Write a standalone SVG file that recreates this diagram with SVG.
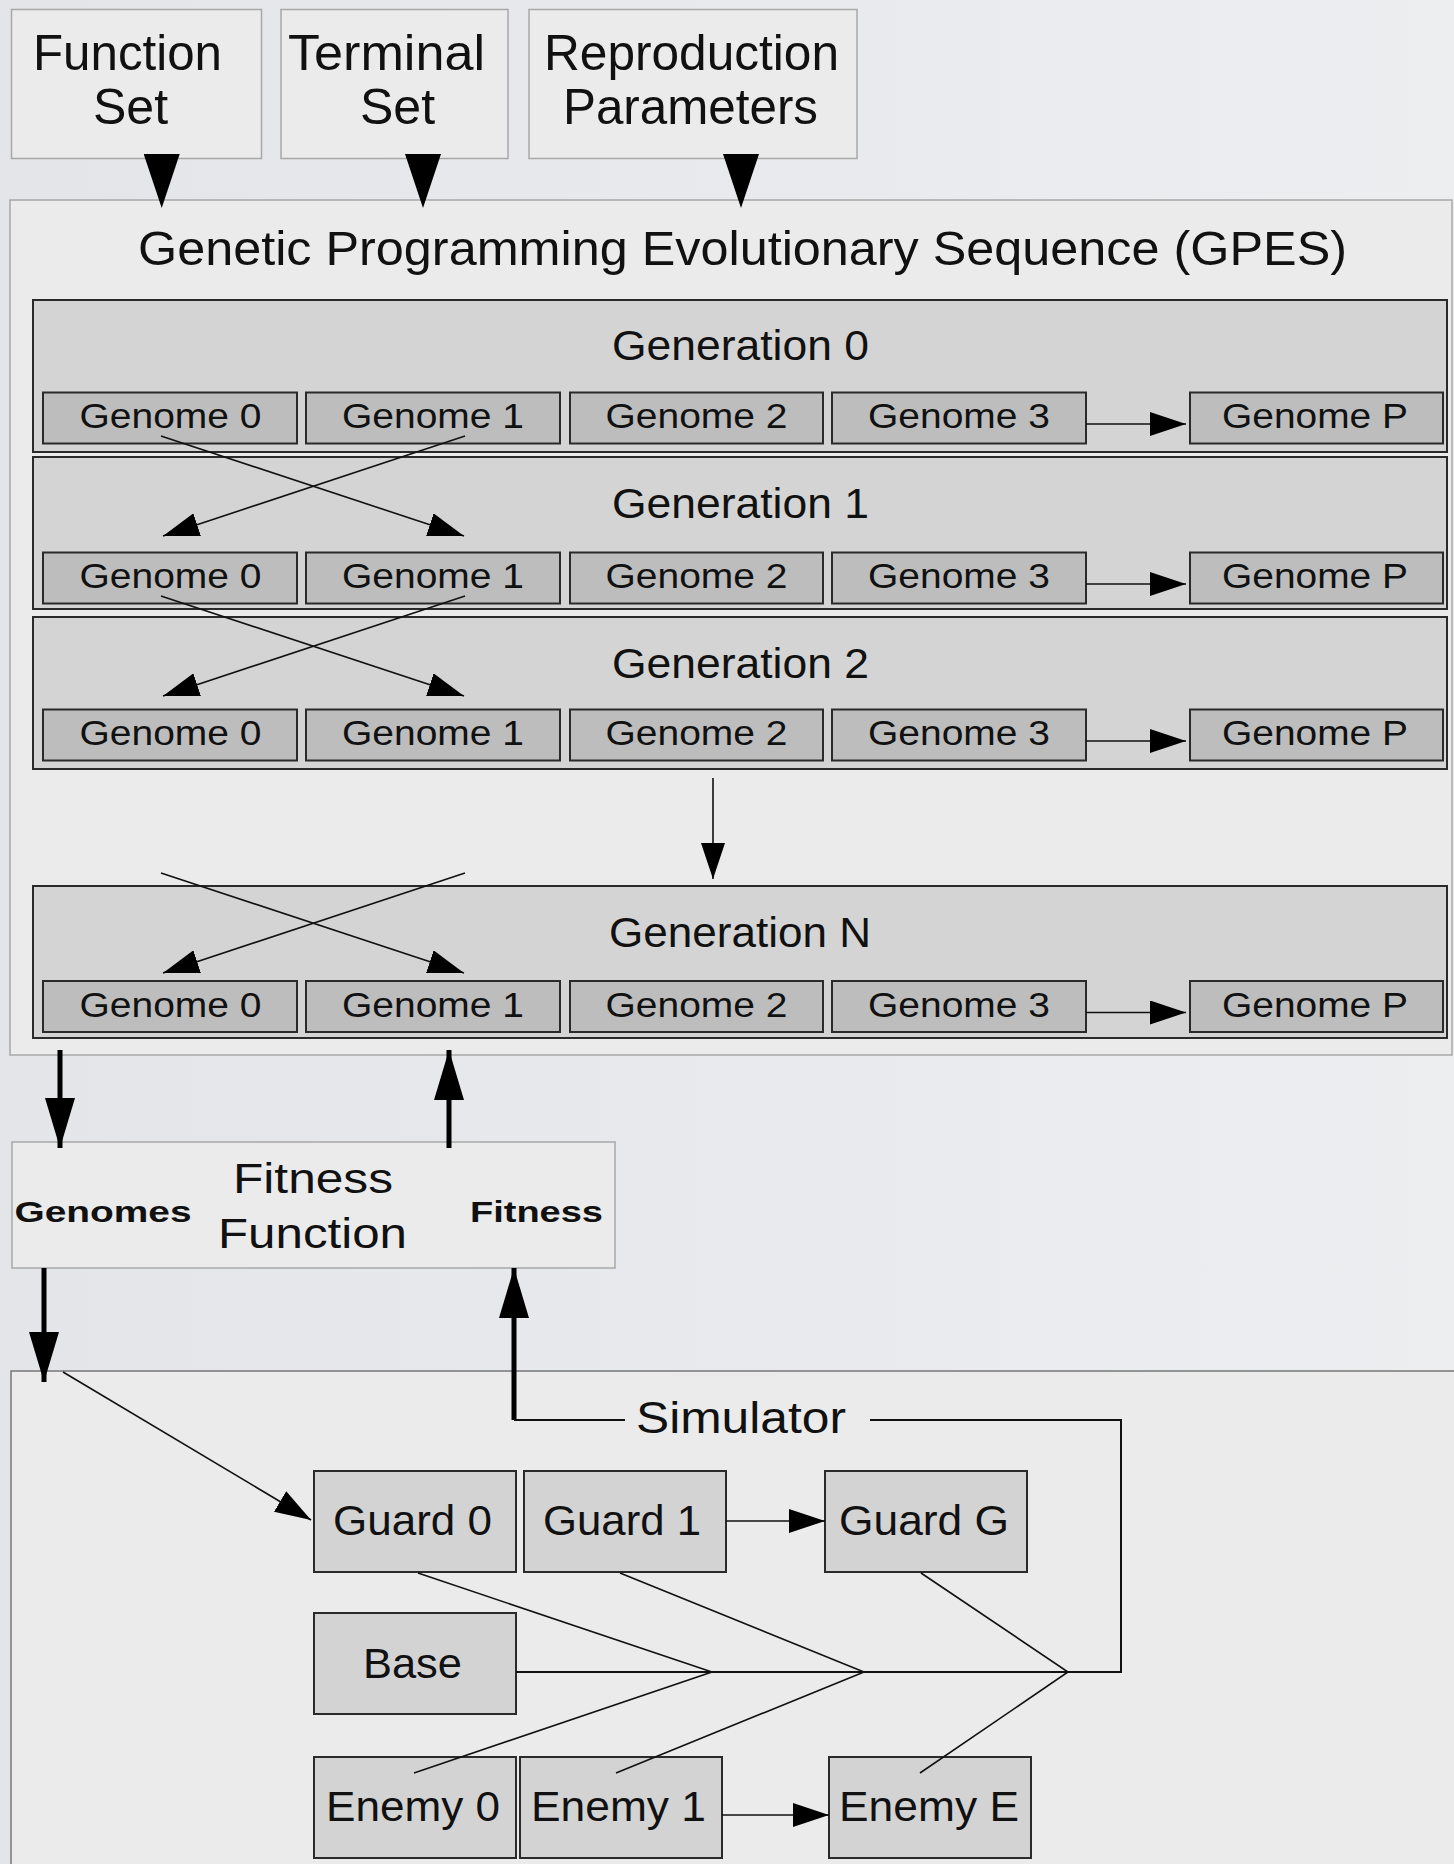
<svg xmlns="http://www.w3.org/2000/svg" width="1454" height="1864" viewBox="0 0 1454 1864">
<defs>
<style>
text{font-family:"Liberation Sans",Arial,sans-serif;fill:#111}
.panel{fill:#ebebeb;stroke:#a8a8a8;stroke-width:1.5}
.gen{fill:#d4d4d4;stroke:#2a2a2a;stroke-width:2}
.gnm{fill:#bdbdbd;stroke:#2a2a2a;stroke-width:2}
.ent{fill:#d3d3d3;stroke:#2a2a2a;stroke-width:2}
.gt{font-size:35px;text-anchor:middle}
.gl{font-size:42px;text-anchor:middle}
.tt{font-size:50px;text-anchor:middle}
.et{font-size:43px;text-anchor:middle}
.thin{stroke:#111;stroke-width:1.6;fill:none}
.thick{stroke:#000;stroke-width:5;fill:none}
.mid{stroke:#111;stroke-width:2;fill:none}
</style>
<linearGradient id="bg" x1="0" y1="0" x2="1" y2="0">
<stop offset="0" stop-color="#e3e5e9"/><stop offset="1" stop-color="#eceef0"/>
</linearGradient>
<marker id="ah" markerUnits="userSpaceOnUse" markerWidth="36" markerHeight="24" refX="36" refY="12" orient="auto"><path d="M0,0 L36,12 L0,24 z" fill="#000"/></marker>
<marker id="ahT" markerUnits="userSpaceOnUse" markerWidth="50" markerHeight="30" refX="50" refY="15" orient="auto"><path d="M0,0 L50,15 L0,30 z" fill="#000"/></marker>
<marker id="ahB" markerUnits="userSpaceOnUse" markerWidth="54" markerHeight="36" refX="54" refY="18" orient="auto"><path d="M0,0 L54,18 L0,36 z" fill="#000"/></marker>
</defs>
<rect x="0" y="0" width="1454" height="1864" fill="url(#bg)"/>

<g id="function-set">
<rect class="panel" x="11.5" y="9.5" width="250" height="149"/>
<text class="tt" x="127.5" y="70" textLength="189" lengthAdjust="spacingAndGlyphs">Function</text>
<text class="tt" x="130.5" y="124">Set</text>
</g>
<g id="terminal-set">
<rect class="panel" x="281" y="9.5" width="227" height="149"/>
<text class="tt" x="386.5" y="70" textLength="197" lengthAdjust="spacingAndGlyphs">Terminal</text>
<text class="tt" x="397.5" y="124">Set</text>
</g>
<g id="reproduction-parameters">
<rect class="panel" x="529" y="9.5" width="328" height="149"/>
<text class="tt" x="691.5" y="70" textLength="295" lengthAdjust="spacingAndGlyphs">Reproduction</text>
<text class="tt" x="690.5" y="124" textLength="255" lengthAdjust="spacingAndGlyphs">Parameters</text>
</g>

<g id="gpes">
<rect class="panel" x="10" y="200" width="1442" height="855"/>
<text x="742.5" y="265" font-size="48" text-anchor="middle" textLength="1209" lengthAdjust="spacingAndGlyphs">Genetic Programming Evolutionary Sequence (GPES)</text>
</g>

<g id="generation-0">
<rect class="gen" x="33" y="300" width="1414" height="152"/>
<text class="gl" x="740.5" y="360" textLength="257" lengthAdjust="spacingAndGlyphs">Generation 0</text>
<rect class="gnm" x="43" y="392.5" width="254" height="51"/>
<text class="gt" x="170.5" y="428" textLength="182" lengthAdjust="spacingAndGlyphs">Genome 0</text>
<rect class="gnm" x="306" y="392.5" width="254" height="51"/>
<text class="gt" x="433" y="428" textLength="182" lengthAdjust="spacingAndGlyphs">Genome 1</text>
<rect class="gnm" x="570" y="392.5" width="253" height="51"/>
<text class="gt" x="696.5" y="428" textLength="182" lengthAdjust="spacingAndGlyphs">Genome 2</text>
<rect class="gnm" x="832" y="392.5" width="254" height="51"/>
<text class="gt" x="959" y="428" textLength="182" lengthAdjust="spacingAndGlyphs">Genome 3</text>
<rect class="gnm" x="1190" y="392.5" width="253" height="51"/>
<text class="gt" x="1315" y="428" textLength="186" lengthAdjust="spacingAndGlyphs">Genome P</text>
</g>

<g id="generation-1">
<rect class="gen" x="33" y="457" width="1414" height="152"/>
<text class="gl" x="740.5" y="518" textLength="257" lengthAdjust="spacingAndGlyphs">Generation 1</text>
<rect class="gnm" x="43" y="552.5" width="254" height="51"/>
<text class="gt" x="170.5" y="588" textLength="182" lengthAdjust="spacingAndGlyphs">Genome 0</text>
<rect class="gnm" x="306" y="552.5" width="254" height="51"/>
<text class="gt" x="433" y="588" textLength="182" lengthAdjust="spacingAndGlyphs">Genome 1</text>
<rect class="gnm" x="570" y="552.5" width="253" height="51"/>
<text class="gt" x="696.5" y="588" textLength="182" lengthAdjust="spacingAndGlyphs">Genome 2</text>
<rect class="gnm" x="832" y="552.5" width="254" height="51"/>
<text class="gt" x="959" y="588" textLength="182" lengthAdjust="spacingAndGlyphs">Genome 3</text>
<rect class="gnm" x="1190" y="552.5" width="253" height="51"/>
<text class="gt" x="1315" y="588" textLength="186" lengthAdjust="spacingAndGlyphs">Genome P</text>
</g>

<g id="generation-2">
<rect class="gen" x="33" y="617" width="1414" height="152"/>
<text class="gl" x="740.5" y="678" textLength="257" lengthAdjust="spacingAndGlyphs">Generation 2</text>
<rect class="gnm" x="43" y="709.5" width="254" height="51"/>
<text class="gt" x="170.5" y="745" textLength="182" lengthAdjust="spacingAndGlyphs">Genome 0</text>
<rect class="gnm" x="306" y="709.5" width="254" height="51"/>
<text class="gt" x="433" y="745" textLength="182" lengthAdjust="spacingAndGlyphs">Genome 1</text>
<rect class="gnm" x="570" y="709.5" width="253" height="51"/>
<text class="gt" x="696.5" y="745" textLength="182" lengthAdjust="spacingAndGlyphs">Genome 2</text>
<rect class="gnm" x="832" y="709.5" width="254" height="51"/>
<text class="gt" x="959" y="745" textLength="182" lengthAdjust="spacingAndGlyphs">Genome 3</text>
<rect class="gnm" x="1190" y="709.5" width="253" height="51"/>
<text class="gt" x="1315" y="745" textLength="186" lengthAdjust="spacingAndGlyphs">Genome P</text>
</g>

<g id="generation-n">
<rect class="gen" x="33" y="886" width="1414" height="152"/>
<text class="gl" x="740" y="947" textLength="262" lengthAdjust="spacingAndGlyphs">Generation N</text>
<rect class="gnm" x="43" y="981" width="254" height="51"/>
<text class="gt" x="170.5" y="1016.5" textLength="182" lengthAdjust="spacingAndGlyphs">Genome 0</text>
<rect class="gnm" x="306" y="981" width="254" height="51"/>
<text class="gt" x="433" y="1016.5" textLength="182" lengthAdjust="spacingAndGlyphs">Genome 1</text>
<rect class="gnm" x="570" y="981" width="253" height="51"/>
<text class="gt" x="696.5" y="1016.5" textLength="182" lengthAdjust="spacingAndGlyphs">Genome 2</text>
<rect class="gnm" x="832" y="981" width="254" height="51"/>
<text class="gt" x="959" y="1016.5" textLength="182" lengthAdjust="spacingAndGlyphs">Genome 3</text>
<rect class="gnm" x="1190" y="981" width="253" height="51"/>
<text class="gt" x="1315" y="1016.5" textLength="186" lengthAdjust="spacingAndGlyphs">Genome P</text>
</g>

<g id="fitness-function">
<rect class="panel" x="12" y="1142" width="603" height="126"/>
<text x="103" y="1222" font-size="30" font-weight="bold" text-anchor="middle" textLength="177" lengthAdjust="spacingAndGlyphs">Genomes</text>
<text x="313" y="1193" font-size="42" text-anchor="middle" textLength="160" lengthAdjust="spacingAndGlyphs">Fitness</text>
<text x="312.5" y="1248" font-size="42" text-anchor="middle" textLength="189" lengthAdjust="spacingAndGlyphs">Function</text>
<text x="536.5" y="1222" font-size="30" font-weight="bold" text-anchor="middle" textLength="133" lengthAdjust="spacingAndGlyphs">Fitness</text>
</g>

<g id="simulator">
<rect class="panel" x="11" y="1371" width="1450" height="500" style="stroke:#777"/>
<text x="741" y="1433" font-size="45" text-anchor="middle" textLength="210" lengthAdjust="spacingAndGlyphs">Simulator</text>
</g>

<g id="guard-0"><rect class="ent" x="314" y="1471" width="202" height="101"/><text class="et" x="412.5" y="1535" textLength="159" lengthAdjust="spacingAndGlyphs">Guard 0</text></g>
<g id="guard-1"><rect class="ent" x="524" y="1471" width="202" height="101"/><text class="et" x="622" y="1535" textLength="158" lengthAdjust="spacingAndGlyphs">Guard 1</text></g>
<g id="guard-g"><rect class="ent" x="825" y="1471" width="202" height="101"/><text class="et" x="924" y="1535" textLength="170" lengthAdjust="spacingAndGlyphs">Guard G</text></g>
<g id="base"><rect class="ent" x="314" y="1613" width="202" height="101"/><text class="et" x="412.5" y="1678" textLength="99" lengthAdjust="spacingAndGlyphs">Base</text></g>
<g id="enemy-0"><rect class="ent" x="314" y="1757" width="202" height="101"/><text class="et" x="413" y="1821" textLength="174" lengthAdjust="spacingAndGlyphs">Enemy 0</text></g>
<g id="enemy-1"><rect class="ent" x="520" y="1757" width="202" height="101"/><text class="et" x="618.5" y="1821" textLength="175" lengthAdjust="spacingAndGlyphs">Enemy 1</text></g>
<g id="enemy-e"><rect class="ent" x="829" y="1757" width="202" height="101"/><text class="et" x="929" y="1821" textLength="180" lengthAdjust="spacingAndGlyphs">Enemy E</text></g>

<g id="connectors">
<!-- inputs into GPES -->
<line x1="161.7" y1="158" x2="161.7" y2="208" style="stroke:none" marker-end="url(#ahB)"/>
<line x1="423" y1="158" x2="423" y2="208" style="stroke:none" marker-end="url(#ahB)"/>
<line x1="741" y1="158" x2="741" y2="208" style="stroke:none" marker-end="url(#ahB)"/>
<!-- genome sequence arrows -->
<line class="thin" x1="1086" y1="424" x2="1186" y2="424" marker-end="url(#ah)"/>
<line class="thin" x1="1086" y1="584" x2="1186" y2="584" marker-end="url(#ah)"/>
<line class="thin" x1="1086" y1="741" x2="1186" y2="741" marker-end="url(#ah)"/>
<line class="thin" x1="1086" y1="1012.5" x2="1186" y2="1012.5" marker-end="url(#ah)"/>
<!-- crossovers -->
<line class="thin" x1="161" y1="436" x2="464" y2="536" marker-end="url(#ah)"/>
<line class="thin" x1="465" y1="436" x2="163" y2="536" marker-end="url(#ah)"/>
<line class="thin" x1="161" y1="596" x2="464" y2="696" marker-end="url(#ah)"/>
<line class="thin" x1="465" y1="596" x2="163" y2="696" marker-end="url(#ah)"/>
<line class="thin" x1="161" y1="873" x2="464" y2="973" marker-end="url(#ah)"/>
<line class="thin" x1="465" y1="873" x2="163" y2="973" marker-end="url(#ah)"/>
<line class="thin" x1="713" y1="778" x2="713" y2="879" marker-end="url(#ah)"/>
<!-- fitness function links -->
<line class="thick" x1="60" y1="1050" x2="60" y2="1148" marker-end="url(#ahT)"/>
<line class="thick" x1="449" y1="1148" x2="449" y2="1050" marker-end="url(#ahT)"/>
<line class="thick" x1="44" y1="1268" x2="44" y2="1382" marker-end="url(#ahT)"/>
<path class="thick" d="M514,1420 L514,1268" marker-end="url(#ahT)"/>
<path class="mid" d="M514,1420 L625,1420"/>
<path class="mid" d="M870,1420 L1121,1420 L1121,1672 L516,1672"/>
<line class="thin" x1="63" y1="1372" x2="311" y2="1520" marker-end="url(#ah)"/>
<!-- simulator internals -->
<line class="thin" x1="726" y1="1521" x2="825" y2="1521" marker-end="url(#ah)"/>
<line class="thin" x1="722" y1="1815" x2="829" y2="1815" marker-end="url(#ah)"/>
<path class="thin" d="M418,1573 L712,1672 L414,1773"/>
<path class="thin" d="M620,1573 L864,1672 L616,1773"/>
<path class="thin" d="M921,1573 L1068,1672 L920,1773"/>
</g>
</svg>
